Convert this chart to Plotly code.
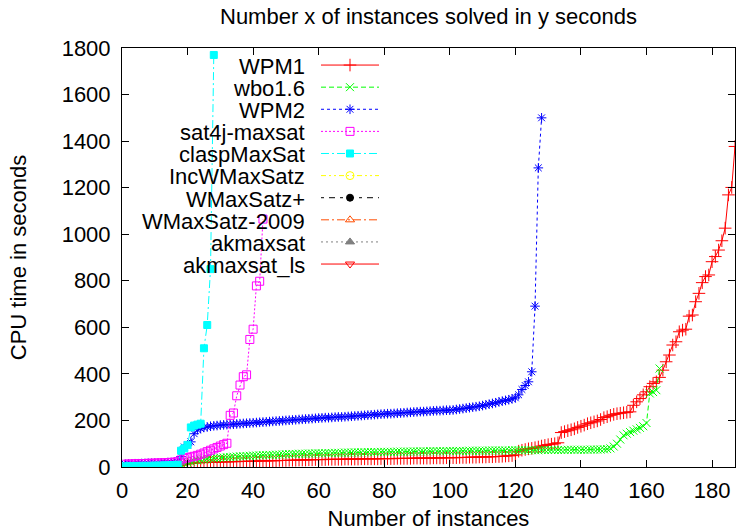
import plotly.graph_objects as go

FONT = "Liberation Sans, Arial, Helvetica, sans-serif"
FS = 22

series_names = ["WPM1", "wbo1.6", "WPM2", "sat4j-maxsat", "claspMaxSat",
                "IncWMaxSatz", "WMaxSatz+", "WMaxSatz-2009", "akmaxsat", "akmaxsat_ls"]

wpm1 = [1, 1, 1, 2, 2, 2, 2, 3, 3, 3, 3, 4, 4, 4, 5, 5, 6,
        8, 10, 13, 15, 17,
        18, 19, 19, 20, 20, 21, 21, 22, 22, 22, 23, 23, 23, 24, 24, 24, 25, 25,
        25, 26, 26, 26, 27, 27, 27, 28, 28, 28, 29, 29, 29, 30, 30, 30, 31, 31, 32, 32,
        32, 32, 33, 33, 33, 33, 33, 34, 34, 34, 34, 34, 35, 35, 35, 35, 35, 35, 36, 36,
        36, 36, 36, 37, 37, 37, 37, 37, 38, 38, 38, 38, 38, 38, 39, 39, 39, 39, 40, 40,
        40, 40, 41, 41, 41, 42, 42, 42, 43, 43, 43, 44, 44, 45, 45, 46, 47, 48, 49,
        52,
        68, 72, 75, 78, 80, 83, 86, 90, 93, 96, 98, 100, 104,
        148, 152, 156, 160, 164, 170, 175, 180, 186, 190,
        194, 198, 204, 212, 216, 222, 226, 229, 231, 233,
        235, 237, 265, 280, 294, 310, 323, 345, 359, 366,
        385, 416, 452, 481, 524, 538, 581, 588, 592, 648,
        653, 710, 746, 792, 818, 825, 882, 904, 932, 972,
        1026, 1169, 1201, 1377]

wbo = [1, 1, 1, 1, 1, 1, 1, 2, 2, 2, 2, 2, 2, 3, 3, 3, 4,
       8, 14, 19, 23, 26, 29, 31, 33, 35, 36, 38, 39, 40,
       41, 42, 43, 44, 45, 46, 46, 47, 48, 49, 49, 50, 51, 51, 52, 52, 53, 53, 54, 55,
       55, 56, 56, 57, 57, 57, 58, 58, 59, 59, 59, 60, 60, 60, 61, 61, 61, 62, 62, 62,
       63, 63, 63, 63, 64, 64, 64, 64, 65, 65,
       65, 65, 65, 66, 66, 66, 66, 66, 67, 67, 67, 67, 67, 68, 68, 68, 68, 68, 68, 69,
       69, 69, 69, 69, 69, 70, 70, 70, 70, 70, 70, 71, 71, 71, 71, 71, 71, 71, 72, 72,
       72, 72, 72, 72, 72, 72, 72, 73, 73, 73, 73, 73, 73, 73, 73, 74, 74, 74, 74, 74,
       74, 74, 75, 75, 75, 75, 76, 77,
       80, 88, 100, 118, 136, 143, 150, 156, 162, 168, 175, 189, 316, 322, 330, 423]

wpm2 = [12, 13, 13, 14, 14, 15, 15, 16, 16, 17, 17, 18, 18, 19, 19, 20, 22,
        45, 86, 95, 108, 143,
        160, 165, 170, 172, 175, 177, 178, 180,
        181, 182, 183, 184, 185, 186, 187, 188, 189, 190, 191, 192, 193, 194, 195,
        196, 197, 198, 199, 200, 201, 202, 203, 204, 205, 206, 207, 208, 209, 210,
        211, 212, 212, 213, 214, 215, 215, 216, 217, 218, 219, 220, 221, 222, 223,
        224, 225, 226, 227, 228, 229, 229, 230, 231, 232, 233, 234, 235, 236, 237,
        238, 238, 239, 240, 241, 242, 242, 243, 244, 244,
        245, 247, 249, 251, 253, 255, 257, 259, 261, 264, 267, 270, 273, 276, 280,
        283, 286, 289, 293,
        297, 310, 333, 350, 366, 409, 691, 1285, 1500]

sat4j = [12, 13, 13, 14, 14, 15, 15, 16, 16, 17, 17, 18, 18, 19, 20, 21, 23,
         30, 36, 40, 43, 46, 50, 55, 60, 66, 72, 78, 84, 90, 96, 102,
         222, 232, 306, 352, 388, 396, 548, 592, 778, 798, 1065]

clasp = [3, 3, 4, 4, 4, 5, 5, 5, 5, 6, 6, 6, 7, 7, 8, 8, 10,
         70, 80, 95, 170, 178, 182, 186, 510, 610, 850, 1770]

incw = []
wmaxsatz_plus = []
wmaxsatz_2009 = []
akmaxsat = []
akmaxsat_ls = []

all_y = [wpm1, wbo, wpm2, sat4j, clasp, incw, wmaxsatz_plus, wmaxsatz_2009, akmaxsat, akmaxsat_ls]

colors = ["#ff0000", "#00ff00", "#0000ff", "#ff00ff", "#00ffff",
          "#ffff00", "#000000", "#ff4d00", "#808080", "#ff0000"]
dashes = ["solid", "5px,3px", "3px,3px", "2px,2px", "8px,3px,2px,3px",
          "5px,3px,2px,3px,2px,3px", "3px,5px,6px,5px", "8px,3px,2px,3px",
          "2px,3px", "solid"]
symbols = ["cross-thin-open", "x-thin-open", "asterisk-open", "square-open", "square",
           "circle-open", "circle", "triangle-up-open", "triangle-up", "triangle-down-open"]
msizes = [9, 8, 8, 8, 7, 8, 7, 8, 8, 8]

fig = go.Figure()
for name, ys, c, d, s, ms in zip(series_names, all_y, colors, dashes, symbols, msizes):
    xs = list(range(1, len(ys) + 1))
    if not ys:  # series with no solved instances: keep legend entry only
        xs, ys = [None], [None]
    fig.add_trace(go.Scatter(
        x=xs, y=ys, name=name, mode="lines+markers",
        line=dict(color=c, width=1, dash=d),
        marker=dict(symbol=s, size=ms, color=c, line=dict(color=c, width=1)),
    ))

# legend labels (gnuplot style: text right-aligned, sample on right)
L, T, W, H = 122, 48, 613, 419
row0, rowgap = 66, 22.2
for i, name in enumerate(series_names):
    ypx = row0 + rowgap * i
    fig.add_annotation(text=name, xref="paper", yref="paper",
                       x=(307 - L) / W, y=(T + H - ypx) / H,
                       xanchor="right", yanchor="middle", showarrow=False,
                       font=dict(family=FONT, size=FS, color="black"))

axis_common = dict(showgrid=False, zeroline=False, showline=True, linecolor="black",
                   linewidth=1, mirror="ticks", ticks="inside", ticklen=7,
                   tickcolor="black", tickfont=dict(family=FONT, size=FS, color="black"))

fig.update_layout(
    width=737, height=531,
    margin=dict(l=L, r=737 - L - W, t=T, b=531 - T - H),
    paper_bgcolor="white", plot_bgcolor="white",
    title=dict(text="Number x of instances solved in y seconds", x=0.5, xref="paper",
               xanchor="center", y=1 - 16 / 531, yanchor="middle",
               font=dict(family=FONT, size=FS, color="black")),
    xaxis=dict(range=[0, 187], tick0=0, dtick=20,
               title=dict(text="Number of instances", standoff=10,
                          font=dict(family=FONT, size=FS, color="black")),
               ticklabelstandoff=4, **axis_common),
    yaxis=dict(range=[0, 1800], tick0=0, dtick=200,
               title=dict(text="CPU time in seconds", standoff=28,
                          font=dict(family=FONT, size=FS, color="black")),
               ticklabelstandoff=6, **axis_common),
    legend=dict(x=(316 - L) / W, y=(T + H - 49) / H, xanchor="left", yanchor="top",
                bgcolor="rgba(0,0,0,0)", borderwidth=0, itemwidth=58,
                font=dict(family=FONT, size=14.7, color="rgba(0,0,0,0)"),
                tracegroupgap=0, itemclick=False),
    showlegend=True,
)

fig.write_html("out.html", config={"displayModeBar": False},
               post_script="document.body.style.margin='0';")
